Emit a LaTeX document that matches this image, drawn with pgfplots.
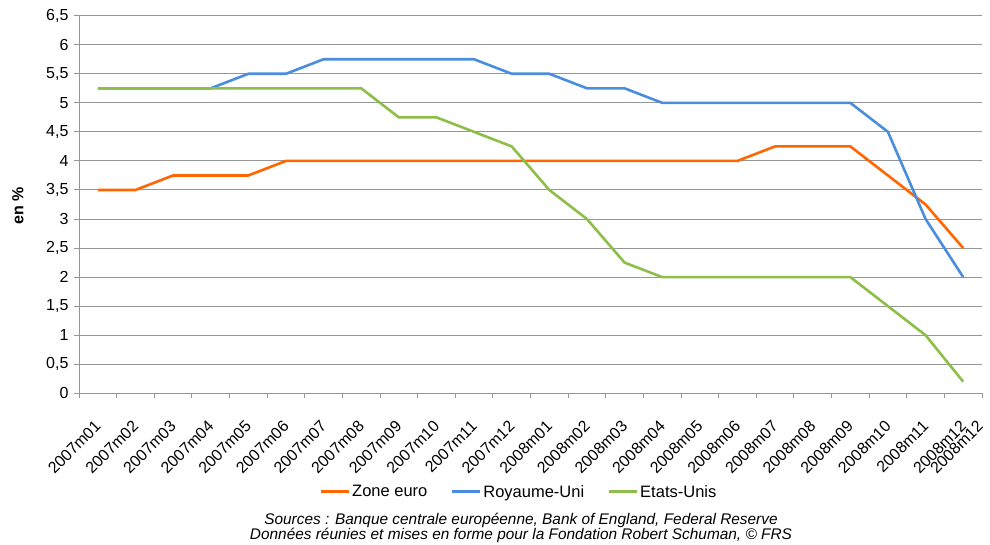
\documentclass[border=0pt]{standalone}
\usepackage{fontspec}
\setmainfont{Liberation Sans}
\usepackage{pgfplots}
\pgfplotsset{compat=1.18}
\definecolor{euro}{RGB}{255,102,0}
\definecolor{uk}{RGB}{74,141,221}
\definecolor{us}{RGB}{141,190,72}
\definecolor{gridc}{RGB}{150,150,150}
\begin{document}
\begin{tikzpicture}
\useasboundingbox (0,0) rectangle (990bp,545bp);
\begin{axis}[
  scale only axis, width=903bp, height=377.6bp,
  at={(79bp,151.7bp)}, anchor=south west,
  xmin=-0.5, xmax=23.5, ymin=0, ymax=6.5,
  axis x line*=bottom, axis y line*=left,
  axis line style={gridc, line width=1bp, -},
  ytick={0,0.5,...,6.5},
  ymajorgrids, grid style={gridc, line width=1bp},
  tick align=outside, major tick length=5bp,
  tick style={gridc, line width=1bp},
  /pgf/number format/.cd, use comma, assume math mode=true,
  /pgfplots/.cd,
  yticklabel style={font=\fontsize{16bp}{18bp}\selectfont, xshift=-2bp},
  xtick={-0.5,0.5,...,23.5},
  xticklabels={},
  extra x ticks={0,1,2,3,4,5,6,7,8,9,10,11,12,13,14,15,16,17,18,19,20,21,22,23,23.45},
  extra x tick labels={2007m01,2007m02,2007m03,2007m04,2007m05,2007m06,2007m07,2007m08,2007m09,2007m10,2007m11,2007m12,2008m01,2008m02,2008m03,2008m04,2008m05,2008m06,2008m07,2008m08,2008m09,2008m10,2008m11,2008m12,2008m12},
  extra x tick style={major tick length=0pt, grid=none,
    xticklabel style={xshift=-4bp, yshift=-26bp, rotate=45, anchor=north east, inner sep=0pt,
      font=\fontsize{16bp}{18bp}\selectfont}},
  legend style={draw=none, fill=none, legend columns=3,
    at={(0.487,-0.261)}, anchor=center,
    font=\fontsize{16.5bp}{19bp}\selectfont,
    /tikz/every even column/.append style={column sep=21bp}},
  legend image code/.code={\draw[#1, line width=3bp] (0bp,0bp) -- (28bp,0bp);},
  every axis plot/.append style={line width=2.6bp, line join=round},
]
\addplot[euro, mark=none] coordinates {
(0,3.5)(1,3.5)(2,3.75)(3,3.75)(4,3.75)(5,4)(6,4)(7,4)(8,4)(9,4)(10,4)(11,4)
(12,4)(13,4)(14,4)(15,4)(16,4)(17,4)(18,4.25)(19,4.25)(20,4.25)(21,3.75)(22,3.25)(23,2.5)};
\addlegendentry{Zone euro}
\addplot[uk, mark=none] coordinates {
(0,5.25)(1,5.25)(2,5.25)(3,5.25)(4,5.5)(5,5.5)(6,5.75)(7,5.75)(8,5.75)(9,5.75)(10,5.75)(11,5.5)
(12,5.5)(13,5.25)(14,5.25)(15,5)(16,5)(17,5)(18,5)(19,5)(20,5)(21,4.5)(22,3)(23,2)};
\addlegendentry{Royaume-Uni}
\addplot[us, mark=none] coordinates {
(0,5.25)(1,5.25)(2,5.25)(3,5.25)(4,5.25)(5,5.25)(6,5.25)(7,5.25)(8,4.75)(9,4.75)(10,4.5)(11,4.25)
(12,3.5)(13,3)(14,2.25)(15,2)(16,2)(17,2)(18,2)(19,2)(20,2)(21,1.5)(22,1)(23,0.2)};
\addlegendentry{Etats-Unis}
\end{axis}
\node[rotate=90, font=\bfseries\fontsize{16bp}{18bp}\selectfont] at (18bp,339bp) {en \%};
\node[font=\itshape\fontsize{15.4bp}{16bp}\selectfont, align=center, inner sep=0pt] at (521bp,17bp)
  {Sources : Banque centrale européenne, Bank of England, Federal Reserve\\[-0.5bp]
   Données réunies et mises en forme pour la Fondation Robert Schuman, © FRS};
\end{tikzpicture}
\end{document}
